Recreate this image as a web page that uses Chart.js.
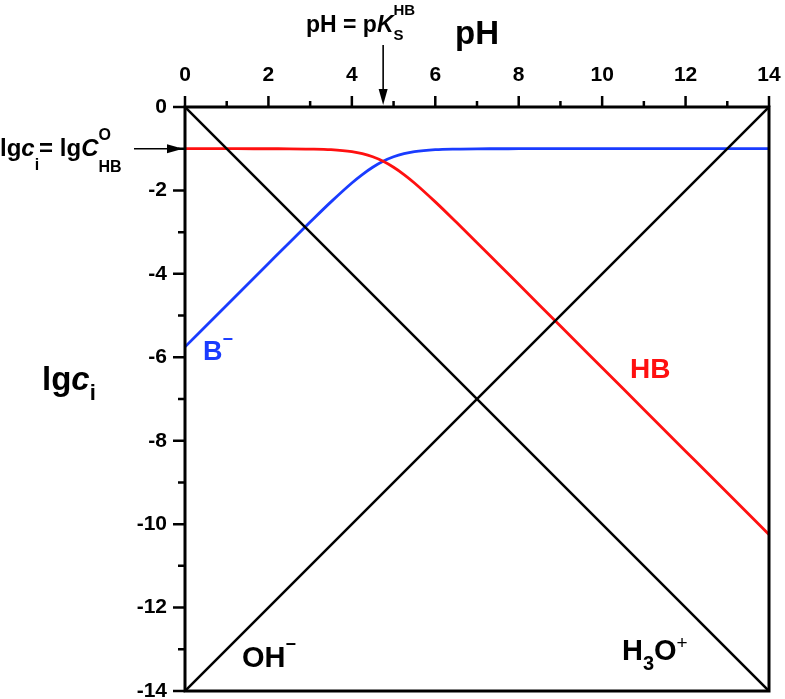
<!DOCTYPE html>
<html>
<head>
<meta charset="utf-8">
<script src="https://cdn.jsdelivr.net/npm/chart.js@4/dist/chart.umd.min.js"></script>
<style>
body { margin: 0; background: #fff; }
</style>
</head>
<body>
<canvas id="chart" width="785" height="699"></canvas>
<script>
// ==========================
// DATA
// ==========================
const phTicks = [0, 2, 4, 6, 8, 10, 12, 14];
const lgTicks = [0, -2, -4, -6, -8, -10, -12, -14];

const phLimits = [0, 14];
const h3oValues = [0, -14];
const ohValues = [-14, 0];

const phPoints = [0, 1, 2, 2.5, 3, 3.5, 4, 4.25, 4.5, 4.75, 5, 5.25, 5.5, 6, 6.5, 7, 7.5, 8, 9, 10, 11, 12, 13, 14];
const hbValues = [-1, -1, -1.001, -1.002, -1.008, -1.024, -1.071, -1.119, -1.194, -1.301, -1.444, -1.619, -1.821, -2.274, -2.758, -3.252, -3.751, -4.251, -5.25, -6.25, -7.25, -8.25, -9.25, -10.25];
const bValues = [-5.75, -4.75, -3.751, -3.252, -2.758, -2.274, -1.821, -1.619, -1.444, -1.301, -1.194, -1.119, -1.071, -1.024, -1.008, -1.002, -1.001, -1, -1, -1, -1, -1, -1, -1];

const pKs = 4.75;
const lgC0 = -1;

const FONT = '"Liberation Sans", Arial, sans-serif';
const RED = '#ff1010';
const BLUE = '#1a3cff';

function toPoints(xs, ys) {
    return xs.map((v, i) => ({ x: v, y: ys[i] }));
}

// ==========================
// TEXT AND DECORATION
// ==========================
function richText(ctx, x, y, runs, color) {
    ctx.fillStyle = color;
    ctx.textBaseline = 'alphabetic';
    ctx.textAlign = 'left';
    for (const r of runs) {
        ctx.font = (r.it ? 'italic ' : '') + (r.w || 'bold') + ' ' + r.size + 'px ' + FONT;
        ctx.fillText(r.t, x, y + (r.dy || 0));
        if (!r.stay) x += ctx.measureText(r.t).width;
    }
}

function arrow(ctx, x1, y1, x2, y2) {
    const ang = Math.atan2(y2 - y1, x2 - x1);
    const len = 16, half = 4.5;
    const bx = x2 - len * Math.cos(ang), by = y2 - len * Math.sin(ang);
    ctx.beginPath();
    ctx.moveTo(x1, y1);
    ctx.lineTo(bx, by);
    ctx.stroke();
    ctx.beginPath();
    ctx.moveTo(x2, y2);
    ctx.lineTo(bx + half * Math.sin(ang), by - half * Math.cos(ang));
    ctx.lineTo(bx - half * Math.sin(ang), by + half * Math.cos(ang));
    ctx.closePath();
    ctx.fill();
}

const decor = {
    id: 'decor',
    afterDraw(chart) {
        const { ctx, chartArea: a } = chart;
        const xs = chart.scales.x, ys = chart.scales.y;
        ctx.save();

        // frame
        ctx.strokeStyle = '#000';
        ctx.fillStyle = '#000';
        ctx.lineWidth = 3;
        ctx.strokeRect(a.left, a.top, a.right - a.left, a.bottom - a.top);

        // major and minor ticks
        ctx.lineWidth = 2.5;
        ctx.beginPath();
        for (let v = xs.min; v <= xs.max; v++) {
            const px = xs.getPixelForValue(v);
            ctx.moveTo(px, a.top);
            ctx.lineTo(px, a.top - (v % 2 === 0 ? 11 : 6));
        }
        for (let v = ys.max; v >= ys.min; v--) {
            const py = ys.getPixelForValue(v);
            ctx.moveTo(a.left, py);
            ctx.lineTo(a.left - (v % 2 === 0 ? 12 : 7), py);
        }
        ctx.stroke();

        // arrows
        ctx.lineWidth = 1.6;
        const cy = ys.getPixelForValue(lgC0);
        arrow(ctx, 134, cy, a.left - 2, cy);
        const kx = xs.getPixelForValue(pKs);
        arrow(ctx, kx, 45, kx, a.top - 2);

        // axis titles
        ctx.font = 'bold 33px ' + FONT;
        ctx.textAlign = 'center';
        ctx.fillText('pH', (a.left + a.right) / 2, 44);
        richText(ctx, 42, 390, [
            { t: 'lg', size: 33 },
            { t: 'c', size: 33, it: true },
            { t: 'i', size: 22, dy: 10 }
        ], '#000');

        // annotations
        richText(ctx, 0, 156, [
            { t: 'lg', size: 24 },
            { t: 'c', size: 24, it: true },
            { t: 'i', size: 16, dy: 14 },
            { t: '= lg', size: 24 },
            { t: 'C', size: 24, it: true },
            { t: 'O', size: 16, dy: -16, stay: true },
            { t: 'HB', size: 16, dy: 16 }
        ], '#000');
        richText(ctx, 306, 32, [
            { t: 'pH = p', size: 23 },
            { t: 'K', size: 23, it: true },
            { t: 'HB', size: 15, dy: -17, stay: true },
            { t: 'S', size: 15, dy: 8 }
        ], '#000');

        // series labels
        richText(ctx, 203, 360, [
            { t: 'B', size: 27 },
            { t: '\u2212', size: 18, dy: -15 }
        ], BLUE);
        richText(ctx, 630, 378, [{ t: 'HB', size: 28 }], RED);
        richText(ctx, 242, 667, [
            { t: 'OH', size: 29 },
            { t: '\u2212', size: 18, dy: -17 }
        ], '#000');
        richText(ctx, 622, 660, [
            { t: 'H', size: 29 },
            { t: '3', size: 20, dy: 10 },
            { t: 'O', size: 29 },
            { t: '+', size: 19, dy: -11, w: 'normal' }
        ], '#000');

        ctx.restore();
    }
};

// ==========================
// CHART
// ==========================
const ctx = document.getElementById('chart').getContext('2d');

const chart = new Chart(ctx, {
    type: 'line',
    data: {
        datasets: [
            {
                label: 'H3O+',
                data: toPoints(phLimits, h3oValues),
                borderColor: '#000',
                borderWidth: 2.5,
                pointRadius: 0
            },
            {
                label: 'OH-',
                data: toPoints(phLimits, ohValues),
                borderColor: '#000',
                borderWidth: 2.5,
                pointRadius: 0
            },
            {
                label: 'HB',
                data: toPoints(phPoints, hbValues),
                borderColor: RED,
                borderWidth: 2.8,
                pointRadius: 0,
                cubicInterpolationMode: 'monotone'
            },
            {
                label: 'B-',
                data: toPoints(phPoints, bValues),
                borderColor: BLUE,
                borderWidth: 2.8,
                pointRadius: 0,
                cubicInterpolationMode: 'monotone'
            }
        ]
    },
    options: {
        responsive: false,
        animation: false,
        layout: { padding: { left: 0, top: 0, right: 16, bottom: 8 } },
        plugins: {
            legend: { display: false },
            tooltip: { enabled: false }
        },
        scales: {
            x: {
                type: 'linear',
                position: 'top',
                min: phLimits[0],
                max: phLimits[1],
                afterBuildTicks: s => { s.ticks = phTicks.map(v => ({ value: v })); },
                afterFit: s => { s.height = 107; s.paddingLeft = 0; s.paddingRight = 0; },
                grid: { drawOnChartArea: false, drawTicks: true, tickLength: 11, tickColor: 'rgba(0,0,0,0)' },
                border: { display: false },
                ticks: {
                    color: '#000',
                    font: { family: FONT, size: 21, weight: 'bold' },
                    padding: 8,
                    maxRotation: 0,
                    autoSkip: false,
                    callback: v => String(v)
                }
            },
            y: {
                type: 'linear',
                min: -14,
                max: 0,
                afterBuildTicks: s => { s.ticks = lgTicks.map(v => ({ value: v })); },
                afterFit: s => { s.width = 185; s.paddingTop = 0; s.paddingBottom = 0; },
                grid: { drawOnChartArea: false, drawTicks: true, tickLength: 12, tickColor: 'rgba(0,0,0,0)' },
                border: { display: false },
                ticks: {
                    color: '#000',
                    font: { family: FONT, size: 21, weight: 'bold', lineHeight: 0.8 },
                    padding: 6,
                    autoSkip: false,
                    callback: v => String(v)
                }
            }
        }
    },
    plugins: [decor]
});
</script>
</body>
</html>
